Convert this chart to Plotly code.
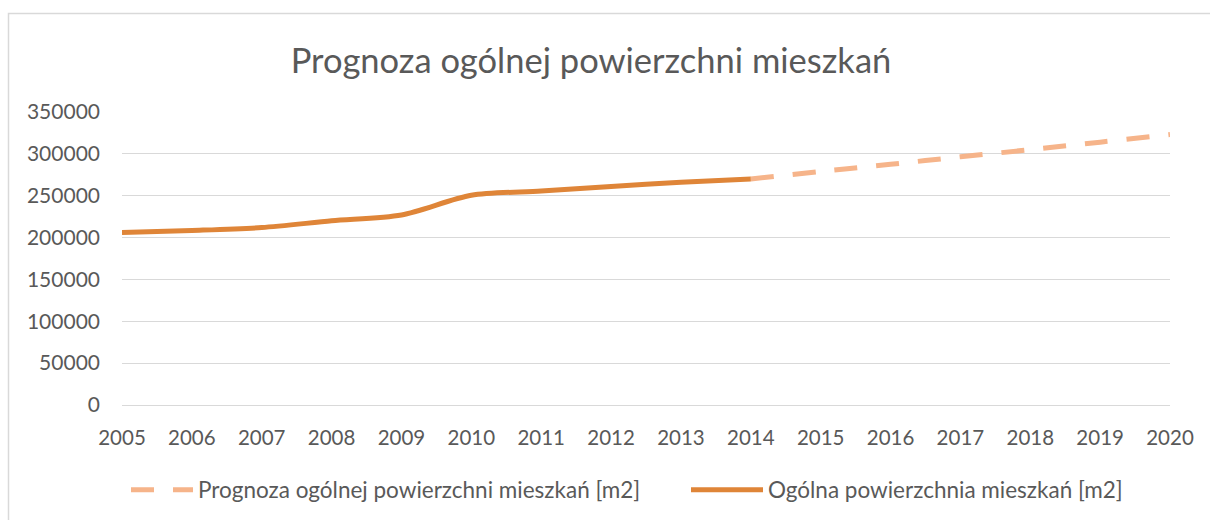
import plotly.graph_objects as go

years_actual = [2005, 2006, 2007, 2008, 2009, 2010, 2011, 2012, 2013, 2014]
area_actual = [206000, 208500, 212000, 220000, 227000, 250500, 255500, 261000, 266000, 270000]

years_forecast = [2014, 2015, 2016, 2017, 2018, 2019, 2020]
area_forecast = [270000, 279000, 287500, 296500, 305000, 314000, 323000]

title_text = "Prognoza ogólnej powierzchni mieszkań"
name_forecast = "Prognoza ogólnej powierzchni mieszkań [m2]"
name_actual = "Ogólna powierzchnia mieszkań [m2]"

W, H = 1210, 520
L, R, T, B = 122, 40, 112, 115
pw = W - L - R
ph = H - T - B

def px_x(p):
    return (p - L) / pw

def px_y(p):
    return (H - B - p) / ph

text_color = "#595959"
font_family = "Lato, 'Open Sans', sans-serif"

fig = go.Figure()
fig.add_trace(go.Scatter(
    x=years_forecast, y=area_forecast, mode="lines", name=name_forecast,
    line=dict(color="#F6B48A", width=5, dash="23px,19px", shape="spline"),
    legend="legend",
))
fig.add_trace(go.Scatter(
    x=years_actual, y=area_actual, mode="lines", name=name_actual,
    line=dict(color="#DF8538", width=5, shape="spline", smoothing=0.8),
    legend="legend2",
))

legend_common = dict(orientation="h", xanchor="left", yanchor="middle",
                     y=px_y(490), font=dict(size=22.5, color=text_color),
                     bgcolor="rgba(0,0,0,0)")

fig.update_layout(
    width=W, height=H,
    margin=dict(l=L, r=R, t=T, b=B, autoexpand=False),
    paper_bgcolor="white", plot_bgcolor="white",
    font=dict(family=font_family, color=text_color, size=20),
    title=dict(text=title_text, xref="container", x=591 / W, xanchor="center",
               y=1 - 61 / H, yanchor="middle",
               font=dict(size=34.5, color=text_color, family=font_family)),
    showlegend=True,
    legend=dict(x=px_x(126), itemwidth=62, **legend_common),
    legend2=dict(x=px_x(686), itemwidth=72, **legend_common),
    xaxis=dict(range=[2005, 2020], dtick=1, tick0=2005, showgrid=False,
               zeroline=False, showline=False, ticks="",
               ticklabelstandoff=18, tickfont=dict(size=20.5, color=text_color)),
    yaxis=dict(range=[0, 350000], dtick=50000, tickformat="d",
               showgrid=True, gridcolor="#D9D9D9", gridwidth=1.3,
               zeroline=True, zerolinecolor="#D9D9D9", zerolinewidth=1.3,
               showline=False, ticks="", ticklabelstandoff=21,
               tickfont=dict(size=21, color=text_color)),
    shapes=[dict(type="rect", xref="paper", yref="paper",
                 x0=px_x(8.5), x1=px_x(W + 10), y0=px_y(H + 10), y1=px_y(13.5),
                 line=dict(color="#D9D9D9", width=1.5), fillcolor="rgba(0,0,0,0)",
                 layer="below")],
)

fig.write_html("out.html", config={"displayModeBar": False},
               post_script="document.body.style.margin='0';document.body.style.overflow='hidden';")
